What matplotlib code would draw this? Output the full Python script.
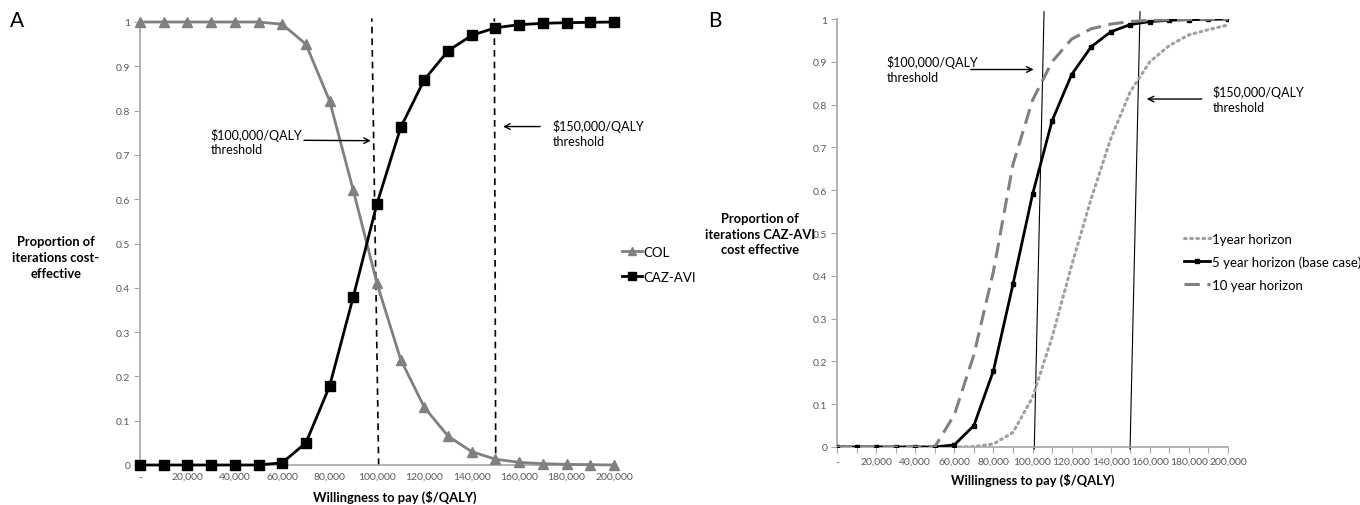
import matplotlib
matplotlib.use("Agg")
import matplotlib.pyplot as plt
import numpy as np

plt.rcParams['font.family'] = ['Lato', 'DejaVu Sans']

# ---------------- data ----------------
wtp = list(range(0, 200001, 10000))
col = [1, 1, 1, 1, 1, 1, 0.995, 0.95, 0.822, 0.62, 0.41, 0.238, 0.13, 0.065,
       0.03, 0.013, 0.006, 0.003, 0.0015, 0.0008, 0.0]
caz_avi = [0, 0, 0, 0, 0, 0, 0.005, 0.05, 0.178, 0.38, 0.59, 0.762, 0.87, 0.935,
           0.97, 0.987, 0.994, 0.997, 0.9985, 0.9992, 1.0]

yr1 = [0, 0, 0, 0, 0, 0, 0, 0.001, 0.007, 0.034, 0.116, 0.256, 0.424, 0.58,
       0.72, 0.83, 0.90, 0.938, 0.963, 0.975, 0.986]
yr5 = caz_avi
yr10 = [0, 0, 0, 0, 0, 0, 0.075, 0.215, 0.41, 0.66, 0.81, 0.90, 0.953, 0.977,
        0.988, 0.994, 0.997, 0.998, 0.999, 0.9995, 1.0]

# threshold guide lines (x at bottom, x at top) in $/QALY
a_thr = [(100700, 97800), (150100, 149500)]
b_thr = [(100900, 105900), (149900, 155000)]

xtick_vals = list(range(0, 200001, 20000))
ytick_vals = [round(0.1 * i, 1) for i in range(11)]


def xfmt(v):
    return '-' if v == 0 else f'{v:,}'


def yfmt(v):
    return '0' if v == 0 else ('1' if v == 1 else f'{v:g}')


SP = '#a6a6a6'
TK = '#595959'
TICK_FS = 7.5
LEG_FS = 9.5
LAB_FS = 9.3

fig = plt.figure(figsize=(13.6, 5.06), dpi=100)

# ---------------- panel A ----------------
axA = fig.add_axes([140 / 1360, 1 - 466 / 506, 474 / 1360, 443 / 506])
axA.plot(wtp, col, color='#808080', lw=2, marker='^', ms=6.5, label='COL', clip_on=False, zorder=3)
axA.plot(wtp, caz_avi, color='black', lw=2, marker='s', ms=6.5, label='CAZ-AVI', clip_on=False, zorder=4)
for xb, xt in a_thr:
    axA.plot([xb, xt], [0, 1.008], color='black', lw=1.2, ls=(0, (4, 3)), clip_on=False, zorder=2)

axA.set_xlim(0, 200000)
axA.set_ylim(0, 1)
axA.set_xticks(xtick_vals)
axA.set_xticklabels([xfmt(v) for v in xtick_vals])
axA.set_yticks(ytick_vals)
axA.set_yticklabels([yfmt(v) for v in ytick_vals])
axA.tick_params(axis='x', length=0, pad=5, labelsize=TICK_FS, labelcolor=TK)
axA.tick_params(axis='y', length=4, width=0.8, color=SP, pad=3, labelsize=TICK_FS, labelcolor=TK)
for s in ['top', 'right']:
    axA.spines[s].set_visible(False)
for s in ['left', 'bottom']:
    axA.spines[s].set_color(SP)
    axA.spines[s].set_linewidth(1.2)

axA.legend(loc='upper left', bbox_to_anchor=(470 / 474, 1 - 212 / 443), frameon=False,
           fontsize=LEG_FS, handlelength=1.5, handletextpad=0.15, labelspacing=1.0,
           markerscale=0.8)

# annotations A
axA.annotate('', xy=(98600, 0.732), xytext=(68000, 0.733),
             arrowprops=dict(arrowstyle='->', color='black', lw=1.0), annotation_clip=False)
axA.text(29700, 0.730, '$100,000/QALY\nthreshold', fontsize=9, va='center', ha='left', linespacing=1.25)
axA.annotate('', xy=(152000, 0.764), xytext=(170000, 0.764),
             arrowprops=dict(arrowstyle='->', color='black', lw=1.0), annotation_clip=False)
axA.text(174000, 0.749, '$150,000/QALY\nthreshold', fontsize=9, va='center', ha='left', linespacing=1.25)

# ---------------- panel B ----------------
axB = fig.add_axes([837 / 1360, 1 - 448 / 506, 391 / 1360, 428 / 506])
axB.plot(wtp, yr1, color='#a0a0a0', lw=2.2, ls=(0, (0.6, 1.4)), dash_capstyle='round',
         label='1year horizon', zorder=3)
axB.plot(wtp, yr5, color='black', lw=2, marker='s', ms=3.5, label='5 year horizon (base case)', zorder=4)
axB.plot(wtp, yr10, color='#808080', lw=2.2, ls=(0, (5, 2.5)), label='10 year horizon', zorder=5)
for xb, xt in b_thr:
    axB.plot([xb, xt], [-0.005, 1.017], color='black', lw=0.8, clip_on=False, zorder=2)

axB.set_xlim(0, 200000)
axB.set_ylim(0, 1)
axB.set_xticks(wtp)
axB.set_xticklabels([xfmt(v) if v % 20000 == 0 else '' for v in wtp])
axB.set_yticks(ytick_vals)
axB.set_yticklabels([yfmt(v) for v in ytick_vals])
axB.tick_params(axis='x', length=4, width=0.8, color=SP, pad=3, labelsize=TICK_FS, labelcolor=TK)
axB.tick_params(axis='y', length=4, width=0.8, color=SP, pad=3, labelsize=TICK_FS, labelcolor=TK)
for s in ['top', 'right']:
    axB.spines[s].set_visible(False)
for s in ['left', 'bottom']:
    axB.spines[s].set_color(SP)
    axB.spines[s].set_linewidth(1.2)

axB.legend(loc='upper left', bbox_to_anchor=(335 / 391, 1 - 202 / 428), frameon=False,
           fontsize=LEG_FS, handlelength=2.0, handletextpad=0.1, labelspacing=0.8)

axB.annotate('', xy=(102000, 0.882), xytext=(67000, 0.882),
             arrowprops=dict(arrowstyle='->', color='black', lw=1.0), annotation_clip=False)
axB.text(25500, 0.883, '$100,000/QALY\nthreshold', fontsize=9, va='center', ha='left', linespacing=1.25)
axB.annotate('', xy=(157000, 0.813), xytext=(188000, 0.813),
             arrowprops=dict(arrowstyle='->', color='black', lw=1.0), annotation_clip=False)
axB.text(192000, 0.813, '$150,000/QALY\nthreshold', fontsize=9, va='center', ha='left', linespacing=1.25)

# ---------------- labels ----------------
fig.text(56 / 1360, 1 - 258 / 506, 'Proportion of\niterations cost-\neffective', ha='center', va='center',
         fontsize=LAB_FS, fontweight='bold', linespacing=1.4)
fig.text(395 / 1360, 1 - 497 / 506, 'Willingness to pay ($/QALY)', ha='center', va='center',
         fontsize=LAB_FS, fontweight='bold')
fig.text(760 / 1360, 1 - 235 / 506, 'Proportion of\niterations CAZ-AVI\ncost effective', ha='center',
         va='center', fontsize=LAB_FS, fontweight='bold', linespacing=1.35)
fig.text(1033 / 1360, 1 - 480 / 506, 'Willingness to pay ($/QALY)', ha='center', va='center',
         fontsize=LAB_FS, fontweight='bold')
fig.text(17 / 1360, 1 - 21 / 506, 'A', ha='center', va='center', fontsize=15)
fig.text(715 / 1360, 1 - 21 / 506, 'B', ha='center', va='center', fontsize=15)

fig.savefig('out.png', dpi=100)
